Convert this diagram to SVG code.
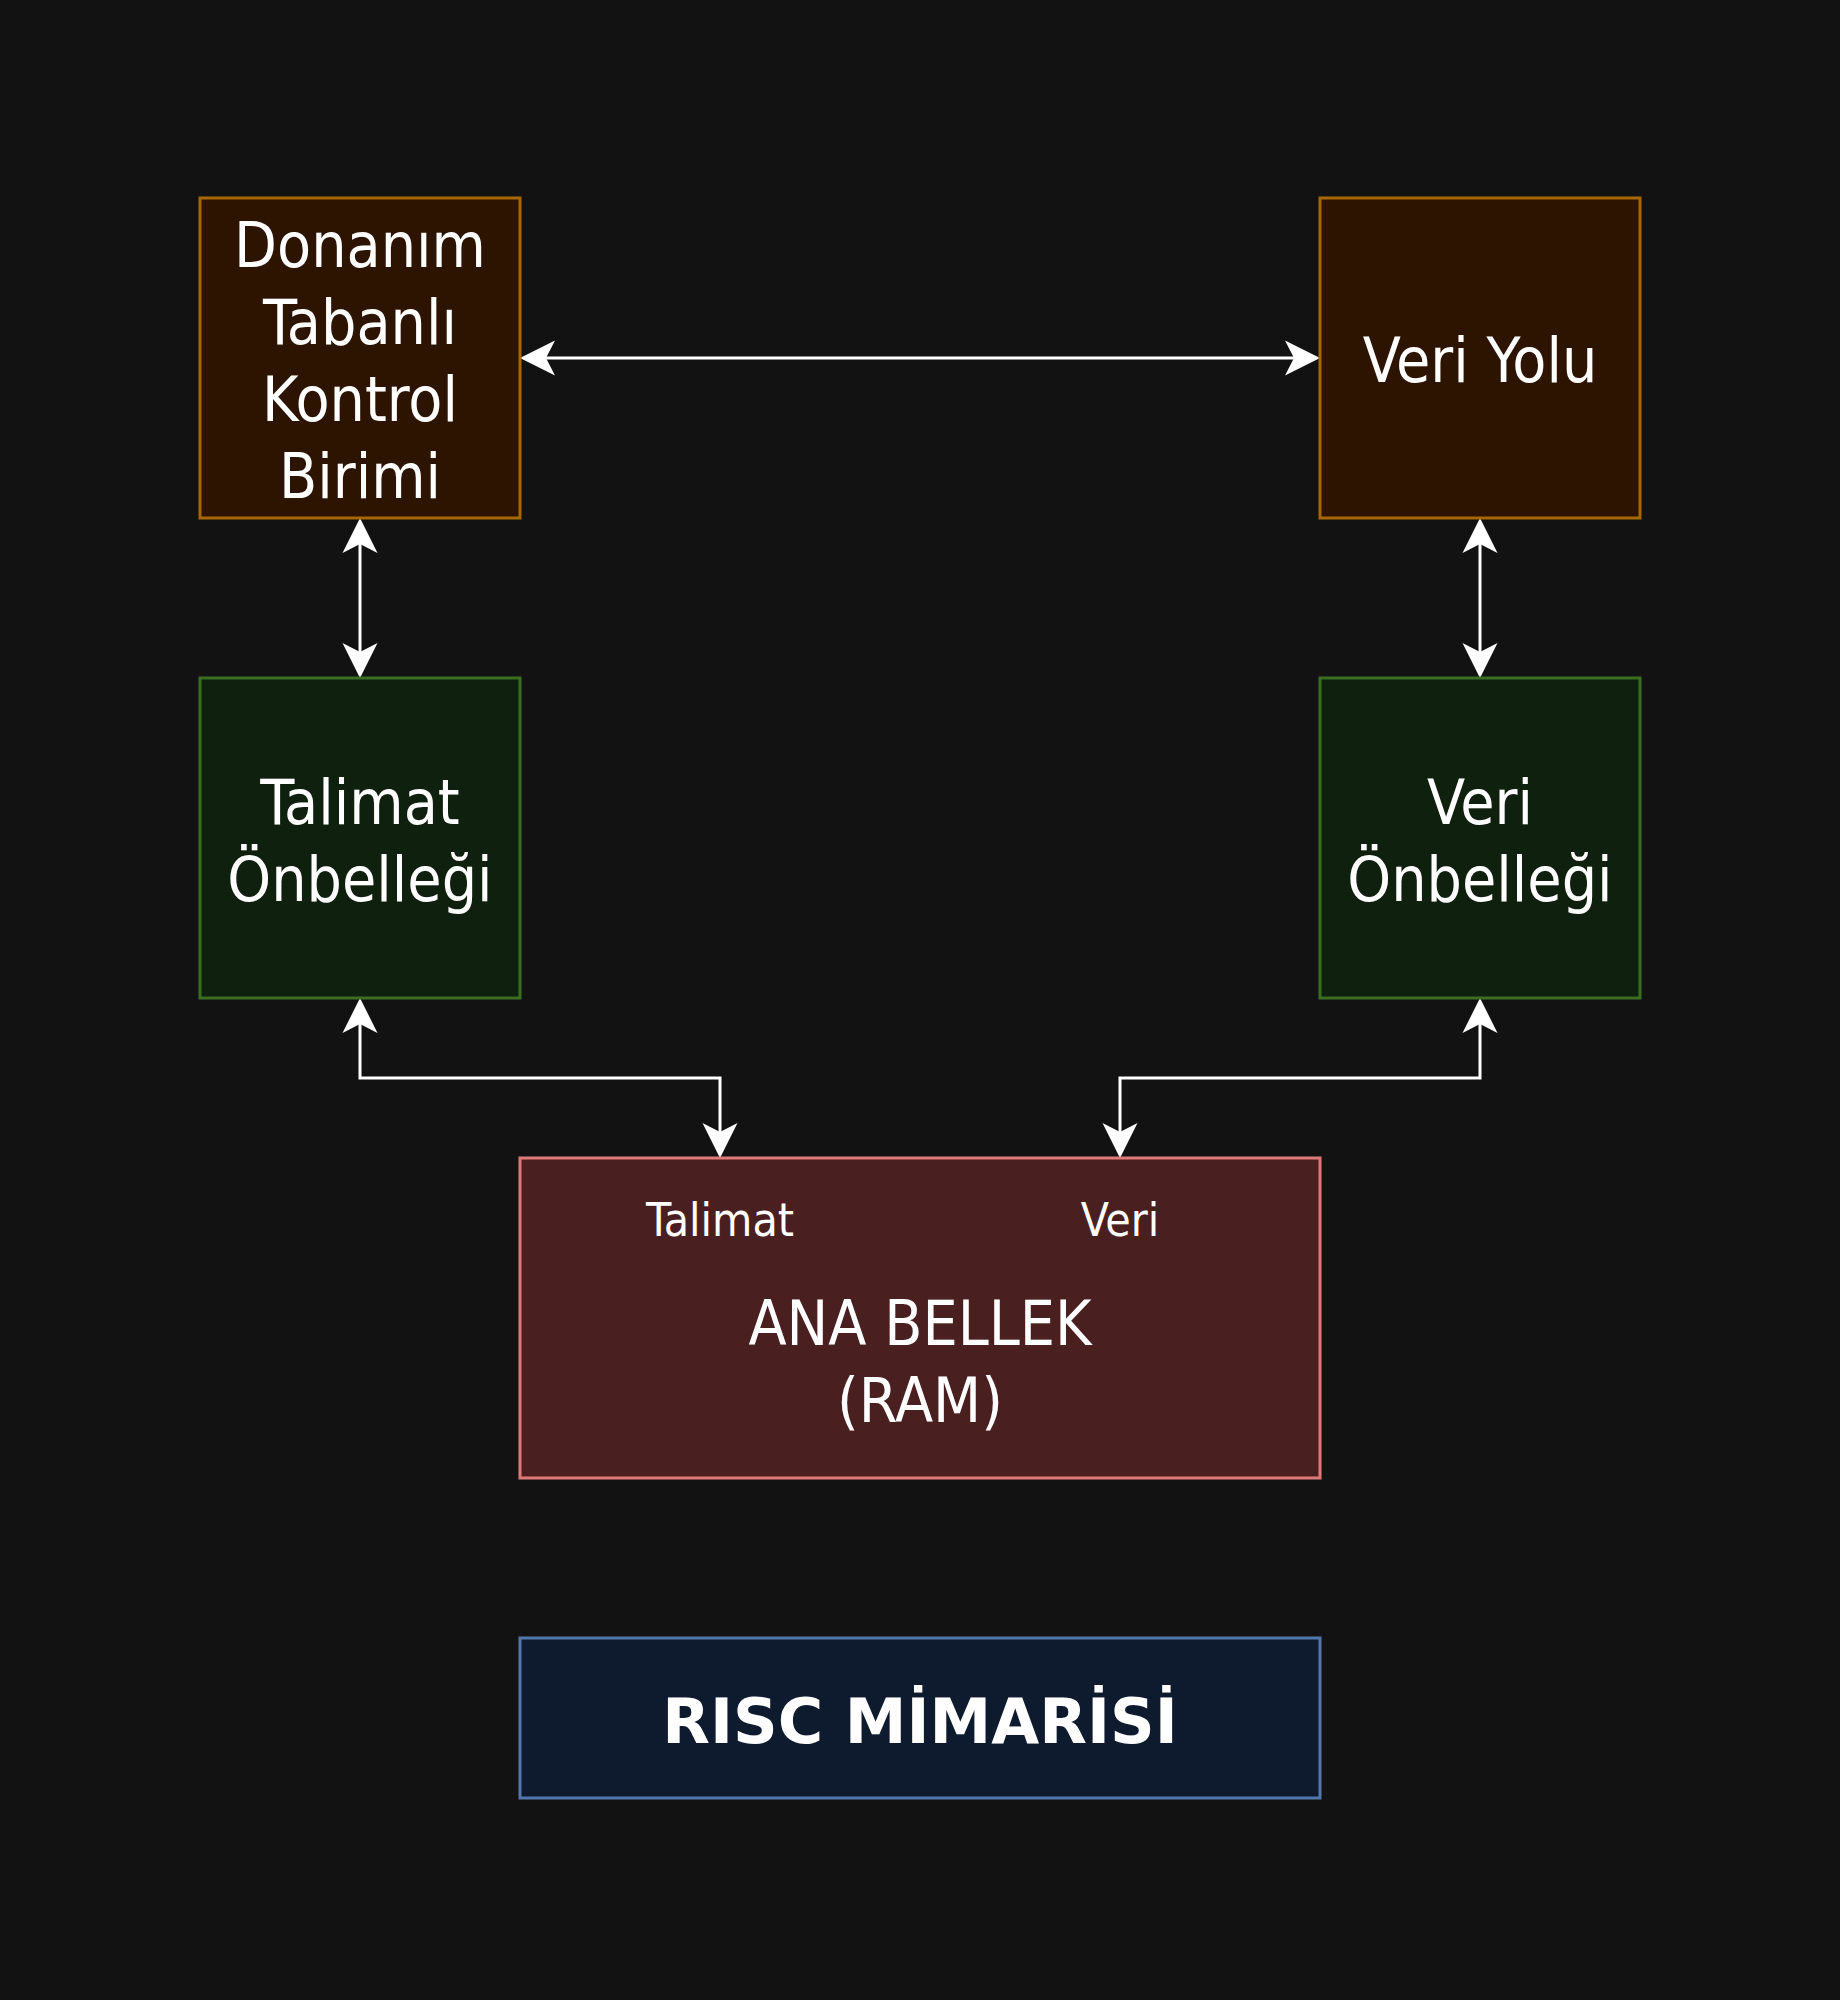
<svg xmlns="http://www.w3.org/2000/svg" width="1840" height="2000" viewBox="0 0 1840 2000">
<style>
.t{font-family:"DejaVu Sans Condensed","DejaVu Sans",sans-serif;fill:#ffffff;text-anchor:middle}
.big{font-size:62px}
.small{font-size:46px}
.bold{font-family:"DejaVu Sans",sans-serif;font-size:62px;font-weight:bold}
.brown{fill:#2d1400;stroke:#a96700;stroke-width:3}
.green{fill:#10200e;stroke:#3a6e22;stroke-width:3}
.red{fill:#4a1f1f;stroke:#e07a78;stroke-width:3}
.blue{fill:#0e1b2e;stroke:#5277aa;stroke-width:3}
.c{fill:none;stroke:#ffffff;stroke-width:3}
</style>
<defs>
<marker id="ah" markerUnits="userSpaceOnUse" markerWidth="40" markerHeight="40" refX="0" refY="0" orient="auto-start-reverse" overflow="visible">
<path d="M26,0 L-9,-17.5 L0,0 L-9,17.5 Z" fill="#ffffff"/>
</marker>
</defs>
<rect width="1840" height="2000" fill="#121212"/>
<g id="connectors">
<path class="c" d="M546,358 L1294,358" marker-start="url(#ah)" marker-end="url(#ah)"/>
<path class="c" d="M360,544 L360,652" marker-start="url(#ah)" marker-end="url(#ah)"/>
<path class="c" d="M1480,544 L1480,652" marker-start="url(#ah)" marker-end="url(#ah)"/>
<path class="c" d="M360,1024 L360,1078 L720,1078 L720,1132" marker-start="url(#ah)" marker-end="url(#ah)"/>
<path class="c" d="M1480,1024 L1480,1078 L1120,1078 L1120,1132" marker-start="url(#ah)" marker-end="url(#ah)"/>
</g>
<g id="kontrol">
<rect class="brown" x="200" y="198" width="320" height="320"/>
<text class="t big" x="360" y="267">Donanım</text>
<text class="t big" x="360" y="344">Tabanlı</text>
<text class="t big" x="360" y="421">Kontrol</text>
<text class="t big" x="360" y="498">Birimi</text>
</g>
<g id="veriyolu">
<rect class="brown" x="1320" y="198" width="320" height="320"/>
<text class="t big" x="1480" y="382">Veri Yolu</text>
</g>
<g id="talimat-onbellegi">
<rect class="green" x="200" y="678" width="320" height="320"/>
<text class="t big" x="360" y="824">Talimat</text>
<text class="t big" x="360" y="901">Önbelleği</text>
</g>
<g id="veri-onbellegi">
<rect class="green" x="1320" y="678" width="320" height="320"/>
<text class="t big" x="1480" y="824">Veri</text>
<text class="t big" x="1480" y="901">Önbelleği</text>
</g>
<g id="ana-bellek">
<rect class="red" x="520" y="1158" width="800" height="320"/>
<text class="t small" x="720" y="1236">Talimat</text>
<text class="t small" x="1120" y="1236">Veri</text>
<text class="t big" x="920" y="1345">ANA BELLEK</text>
<text class="t big" x="920" y="1422">(RAM)</text>
</g>
<g id="risc">
<rect class="blue" x="520" y="1638" width="800" height="160"/>
<text class="t bold" x="920" y="1743">RISC MİMARİSİ</text>
</g>
</svg>
